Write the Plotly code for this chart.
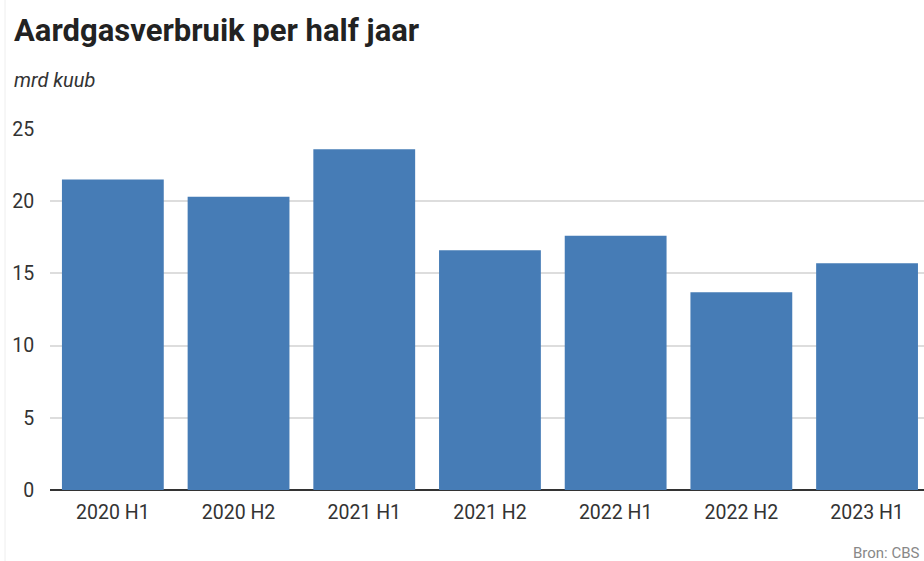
import plotly.graph_objects as go

categories = ["2020 H1", "2020 H2", "2021 H1", "2021 H2", "2022 H1", "2022 H2", "2023 H1"]
values = [21.5, 20.3, 23.6, 16.6, 17.6, 13.7, 15.7]
y_ticks = [0, 5, 10, 15, 20, 25]

W, H = 924, 561
L, R, T, B = 50, 0, 129, 71
plot_w = W - L - R

fig = go.Figure(go.Bar(
    x=categories, y=values,
    marker=dict(color="#467cb6", line=dict(width=0)),
    hoverinfo="x+y",
))

fig.update_layout(
    width=W, height=H,
    margin=dict(l=L, r=R, t=T, b=B, pad=0),
    paper_bgcolor="white", plot_bgcolor="white",
    font=dict(family="Roboto, sans-serif", color="#333333"),
    bargap=0.19,
    showlegend=False,
    xaxis=dict(
        range=[-0.5, -0.5 + plot_w / 125.7],
        showgrid=False, zeroline=False,
        showline=False,
        ticks="outside", ticklen=5, tickcolor="rgba(0,0,0,0)",
        tickfont=dict(size=19.5, color="#333333"),
        fixedrange=True,
    ),
    yaxis=dict(
        range=[0, 25], tickvals=y_ticks,
        showgrid=True, gridcolor="#dddddd", gridwidth=1.5,
        zeroline=True, zerolinecolor="#333333", zerolinewidth=1.5,
        showline=False,
        ticks="outside", ticklen=11, tickcolor="rgba(0,0,0,0)",
        tickfont=dict(size=19.5, color="#333333"),
        fixedrange=True,
    ),
    annotations=[
        dict(text="<b>Aardgasverbruik per half jaar</b>", xref="paper", yref="paper",
             x=0, y=1, xanchor="left", yanchor="bottom", xshift=12 - L, yshift=78,
             showarrow=False, font=dict(size=31, color="#222222", family="Roboto, sans-serif")),
        dict(text="<i>mrd kuub</i>", xref="paper", yref="paper",
             x=0, y=1, xanchor="left", yanchor="bottom", xshift=12 - L, yshift=35,
             showarrow=False, font=dict(size=20, color="#333333", family="Roboto, sans-serif")),
        dict(text="Bron: CBS", xref="paper", yref="paper",
             x=1, y=0, xanchor="right", yanchor="top", xshift=-2, yshift=-52,
             showarrow=False, font=dict(size=15, color="#888888", family="Roboto, sans-serif")),
    ],
    shapes=[
        dict(type="line", xref="paper", yref="paper", x0=(5 - L) / plot_w, x1=(5 - L) / plot_w,
             y0=-B / (H - T - B), y1=1 + T / (H - T - B), line=dict(color="#eeeeee", width=1)),
    ],
)

fig.write_html(
    "out.html",
    config={"displayModeBar": False},
    post_script="document.body.style.margin='0';document.body.style.overflow='hidden';",
)
